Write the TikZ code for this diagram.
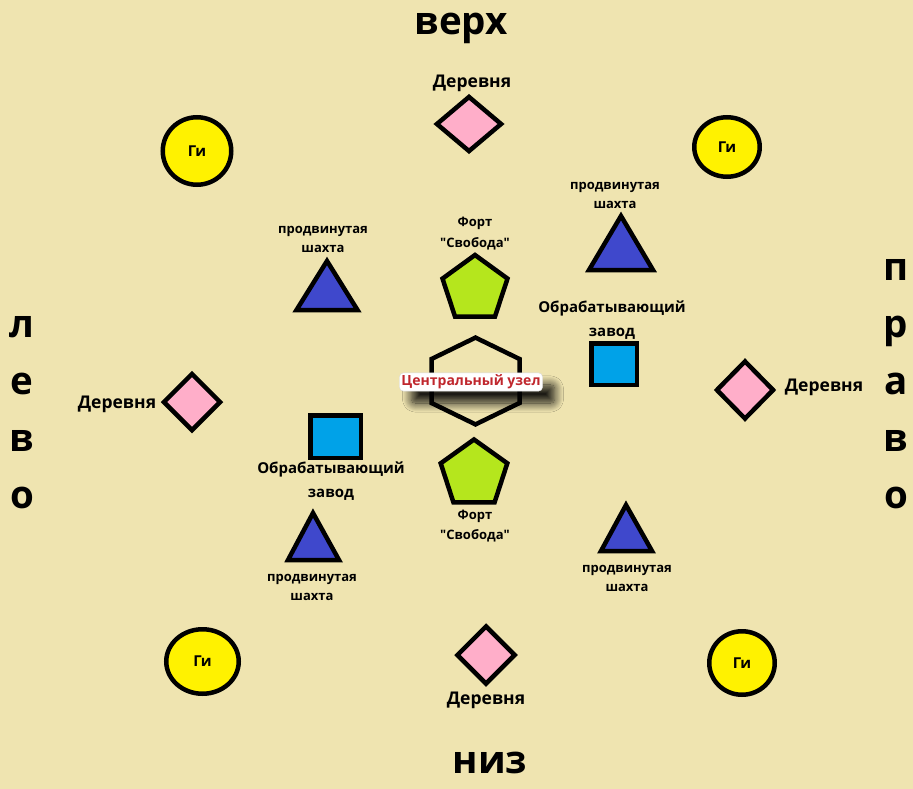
\documentclass[tikz,border=0pt]{standalone}
\usepackage{fontspec}
\setmainfont{Open Sans}
\usetikzlibrary{shapes.geometric,shadows.blur}

\definecolor{bgtan}{RGB}{239,228,176}
\definecolor{giyellow}{RGB}{255,242,0}
\definecolor{vilpink}{RGB}{255,174,201}
\definecolor{fortgreen}{RGB}{181,230,29}
\definecolor{mineblue}{RGB}{63,72,204}
\definecolor{plantblue}{RGB}{0,162,232}
\definecolor{hubred}{RGB}{192,39,45}

\begin{document}
\begin{tikzpicture}[x=1pt,y=1pt,yscale=-1,xscale=1,
	shp/.style={draw=black, line width=4.5pt, line join=miter},
	gi/.style={shp, ellipse, fill=giyellow, inner sep=0pt, font=\bfseries\fontsize{15}{16}\selectfont},
	village/.style={shp, diamond, fill=vilpink, inner sep=0pt},
	plant/.style={shp, rectangle, fill=plantblue, inner sep=0pt},
	lbl/.style={anchor=base, inner sep=0.75pt, align=center, font=\bfseries\fontsize{17.5}{24}\selectfont},
	plbl/.style={anchor=base, inner sep=0.75pt, align=center, font=\bfseries\fontsize{15}{23.5}\selectfont},
	sml/.style={anchor=base, inner sep=0.75pt, align=center, font=\bfseries\fontsize{13}{19}\selectfont},
	side/.style={anchor=base, inner sep=0.75pt, font=\bfseries\fontsize{38.5}{40}\selectfont},
	hub/.style={fill=white, draw=black!15, rounded corners=4pt, inner xsep=2pt, inner ysep=2pt, text=hubred,
		font=\bfseries\fontsize{14}{16}\selectfont,
		blur shadow={shadow xshift=12pt, shadow yshift=-12pt, shadow opacity=90, shadow blur radius=9pt, shadow blur steps=15}}]
				\useasboundingbox (0,0) rectangle (913,789);
				\fill [bgtan] (0,0) rectangle (913,789);

				%Shape: Hexagon [central]
				\draw [shp] (475.5,337.6) -- (519.5,359) -- (519.5,403) -- (475.5,424.4) -- (431.5,403) -- (431.5,359) -- cycle ;
				%Shape: Pentagon [fort top]
				\draw [shp, fill=fortgreen] (475,255) -- (507.5,278.6) -- (495,316.5) -- (455,316.5) -- (442.5,278.6) -- cycle ;
				%Shape: Pentagon [fort bottom]
				\draw [shp, fill=fortgreen] (474,439.5) -- (507.3,463.3) -- (494.6,502.3) -- (453.4,502.3) -- (440.7,463.3) -- cycle ;
				%Shape: Triangle [mine top left]
				\draw [shp, fill=mineblue] (327,261) -- (357.5,310) -- (296.5,310) -- cycle ;
				%Shape: Triangle [mine top right]
				\draw [shp, fill=mineblue] (621,216) -- (653,270) -- (589,270) -- cycle ;
				%Shape: Triangle [mine bottom left]
				\draw [shp, fill=mineblue] (313,513) -- (339,560) -- (288,560) -- cycle ;
				%Shape: Triangle [mine bottom right]
				\draw [shp, fill=mineblue] (626,505) -- (652,551) -- (601,551) -- cycle ;

				%Shape: Diamond [villages]
				\draw (469,124) node [village, minimum width=66, minimum height=56] (vilTop) {};
				\draw (192,402) node [village, minimum width=58, minimum height=58] (vilLeft) {};
				\draw (745,390) node [village, minimum width=58, minimum height=59] (vilRight) {};
				\draw (486,655) node [village, minimum width=59, minimum height=59] (vilBottom) {};
				%Shape: Square [plants]
				\draw (614,364) node [plant, minimum width=45.5, minimum height=41.5] (plantRight) {};
				\draw (335.5,436.5) node [plant, minimum width=50.5, minimum height=42.5] (plantLeft) {};
				%Shape: Circle [gi]
				\draw (197,151) node [gi, minimum width=68.5, minimum height=67.5] (giTL) {Ги};
				\draw (727,147) node [gi, minimum width=65.5, minimum height=59.5] (giTR) {Ги};
				\draw (202.5,661.5) node [gi, minimum width=72.5, minimum height=64.5] (giBL) {Ги};
				\draw (742,663) node [gi, minimum width=65.5, minimum height=63.5] (giBR) {Ги};

				% Text Node
				\draw (472,88) node [lbl] (vilTopTxt) {Деревня};
				% Text Node
				\draw (117,408) node [lbl] (vilLeftTxt) {Деревня};
				% Text Node
				\draw (824,391) node [lbl] (vilRightTxt) {Деревня};
				% Text Node
				\draw (486,704) node [lbl] (vilBottomTxt) {Деревня};
				% Text Node
				\draw (612,336) node [plbl] (plantRightTxt) {Обрабатывающий\\завод};
				% Text Node
				\draw (331,497) node [plbl] (plantLeftTxt) {Обрабатывающий\\завод};
				% Text Node
				\draw (323,252) node [sml] (mineTLTxt) {продвинутая\\шахта};
				% Text Node
				\draw (615,208) node [sml] (mineTRTxt) {продвинутая\\шахта};
				% Text Node
				\draw (312,600) node [sml] (mineBLTxt) {продвинутая\\шахта};
				% Text Node
				\draw (627,591) node [sml] (mineBRTxt) {продвинутая\\шахта};
				% Text Node
				\draw (475,247) node [sml] (fortTopTxt) {Форт\\[2pt]\textquotedbl Свобода\textquotedbl};
				% Text Node
				\draw (475,539) node [sml] (fortBottomTxt) {Форт\\[1pt]\textquotedbl Свобода\textquotedbl};

				% Text Node
				\draw (461,35) node [side] (sideTop) {верх};
				% Text Node
				\draw (490,773) node [side] (sideBottom) {низ};
				% Text Node
				\draw (22,337) node [side] (left1) {л};
				\draw (22,394) node [side] (left2) {е};
				\draw (22,451) node [side] (left3) {в};
				\draw (22,508) node [side] (left4) {о};
				% Text Node
				\draw (896,280) node [side] (right1) {п};
				\draw (896,337) node [side] (right2) {р};
				\draw (896,394) node [side] (right3) {а};
				\draw (896,451) node [side] (right4) {в};
				\draw (896,508) node [side] (right5) {о};

				% Text Node
				\draw (471,382) node [hub] (hubTxt) {Центральный узел};

		\end{tikzpicture}
\end{document}
